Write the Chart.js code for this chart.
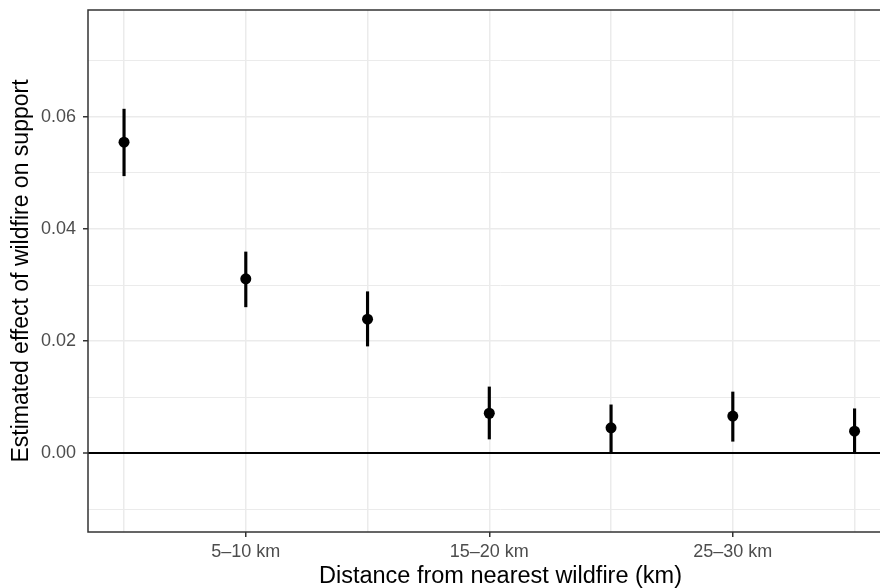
<!DOCTYPE html>
<html>
<head>
<meta charset="utf-8">
<script src="https://cdn.jsdelivr.net/npm/chart.js@4"></script>
<style>
  html, body { margin: 0; background: #fff; overflow: hidden; }
  /* the figure is wider than the window; its right edge is cut off like in the original */
  #wrap { width: 913px; height: 588px; }
</style>
</head>
<body>
<div id="wrap"><canvas id="chart1"></canvas></div>
<script>
// data
var categories = ['0–5 km', '5–10 km', '10–15 km', '15–20 km', '20–25 km', '25–30 km', '30–35 km'];
var estimates = [0.0555, 0.0311, 0.0239, 0.0071, 0.0045, 0.0066, 0.0039];
var lower = [0.0495, 0.0261, 0.0191, 0.0025, 0.0000, 0.0021, 0.0000];
var upper = [0.0614, 0.0359, 0.0288, 0.0118, 0.0086, 0.0109, 0.0079];
var yTicks = [0.00, 0.02, 0.04, 0.06];

var font = '"Liberation Sans", Arial, Helvetica, sans-serif';

function isMajor(v) {
  return yTicks.some(function (t) { return Math.abs(t - v) < 1e-6; });
}

// panel border
var panelBorder = {
  id: 'panelBorder',
  afterDatasetsDraw: function (chart) {
    var a = chart.chartArea, c = chart.ctx;
    c.save();
    c.strokeStyle = '#333333';
    c.lineWidth = 1.5;
    c.strokeRect(a.left, a.top, a.right - a.left, a.bottom - a.top);
    c.restore();
  }
};

var ctx = document.getElementById('chart1').getContext('2d');
var chart = new Chart(ctx, {
  type: 'bar',
  data: {
    datasets: [{
      type: 'scatter',
      label: 'estimate',
      data: estimates.map(function (v, i) { return { x: i, y: v }; }),
      pointRadius: 5.5,
      pointBackgroundColor: '#000',
      pointBorderWidth: 0,
      order: 0
    }, {
      type: 'bar',
      label: 'interval',
      data: lower.map(function (v, i) { return { x: i, y: [v, upper[i]] }; }),
      backgroundColor: '#000',
      barThickness: 2.5,
      order: 1
    }]
  },
  options: {
    responsive: true,
    maintainAspectRatio: false,
    animation: false,
    layout: { autoPadding: false, padding: { top: 10, right: 0, left: 0, bottom: 0 } },
    plugins: { legend: { display: false }, tooltip: { enabled: false } },
    scales: {
      x: {
        type: 'linear',
        offset: false,
        min: -0.296,
        max: 6.48,
        afterFit: function (s) { s.height = 56; s.paddingLeft = 0; s.paddingRight = 0; },
        border: { display: false },
        grid: {
          offset: false,
          color: '#ebebeb',
          lineWidth: 1.5,
          tickLength: 5,
          tickColor: function (c) { return c.tick && c.tick.value % 2 === 1 ? '#333333' : 'rgba(0,0,0,0)'; },
          tickWidth: 1.5
        },
        ticks: {
          stepSize: 1,
          includeBounds: false,
          autoSkip: false,
          maxRotation: 0,
          padding: 4,
          color: '#4d4d4d',
          font: { family: font, size: 18 },
          callback: function (v) { return v % 2 === 1 ? categories[v] : ''; }
        },
        title: {
          display: true,
          text: 'Distance from nearest wildfire (km)',
          color: '#000',
          font: { family: font, size: 23.5, lineHeight: 1 },
          padding: { top: 0, bottom: 0 }
        }
      },
      y: {
        min: -0.0141,
        max: 0.0791,
        afterFit: function (s) { s.width = 88; s.paddingTop = 0; s.paddingBottom = 0; },
        border: { display: false },
        grid: {
          color: function (c) {
            if (c.tick && Math.abs(c.tick.value) < 1e-6) return '#000';
            return '#ebebeb';
          },
          lineWidth: function (c) {
            if (c.tick && Math.abs(c.tick.value) < 1e-6) return 2;
            return c.tick && isMajor(c.tick.value) ? 1.5 : 1;
          },
          tickLength: 5,
          tickColor: function (c) { return c.tick && isMajor(c.tick.value) ? '#333333' : 'rgba(0,0,0,0)'; },
          tickWidth: 1.5
        },
        ticks: {
          stepSize: 0.01,
          includeBounds: false,
          padding: 7,
          color: '#4d4d4d',
          font: { family: font, size: 18 },
          callback: function (v) { return isMajor(v) ? v.toFixed(2) : ''; }
        },
        title: {
          display: true,
          text: 'Estimated effect of wildfire on support',
          color: '#000',
          font: { family: font, size: 23 },
          padding: { top: 8, bottom: 0 }
        }
      }
    }
  },
  plugins: [panelBorder]
});
</script>
</body>
</html>
